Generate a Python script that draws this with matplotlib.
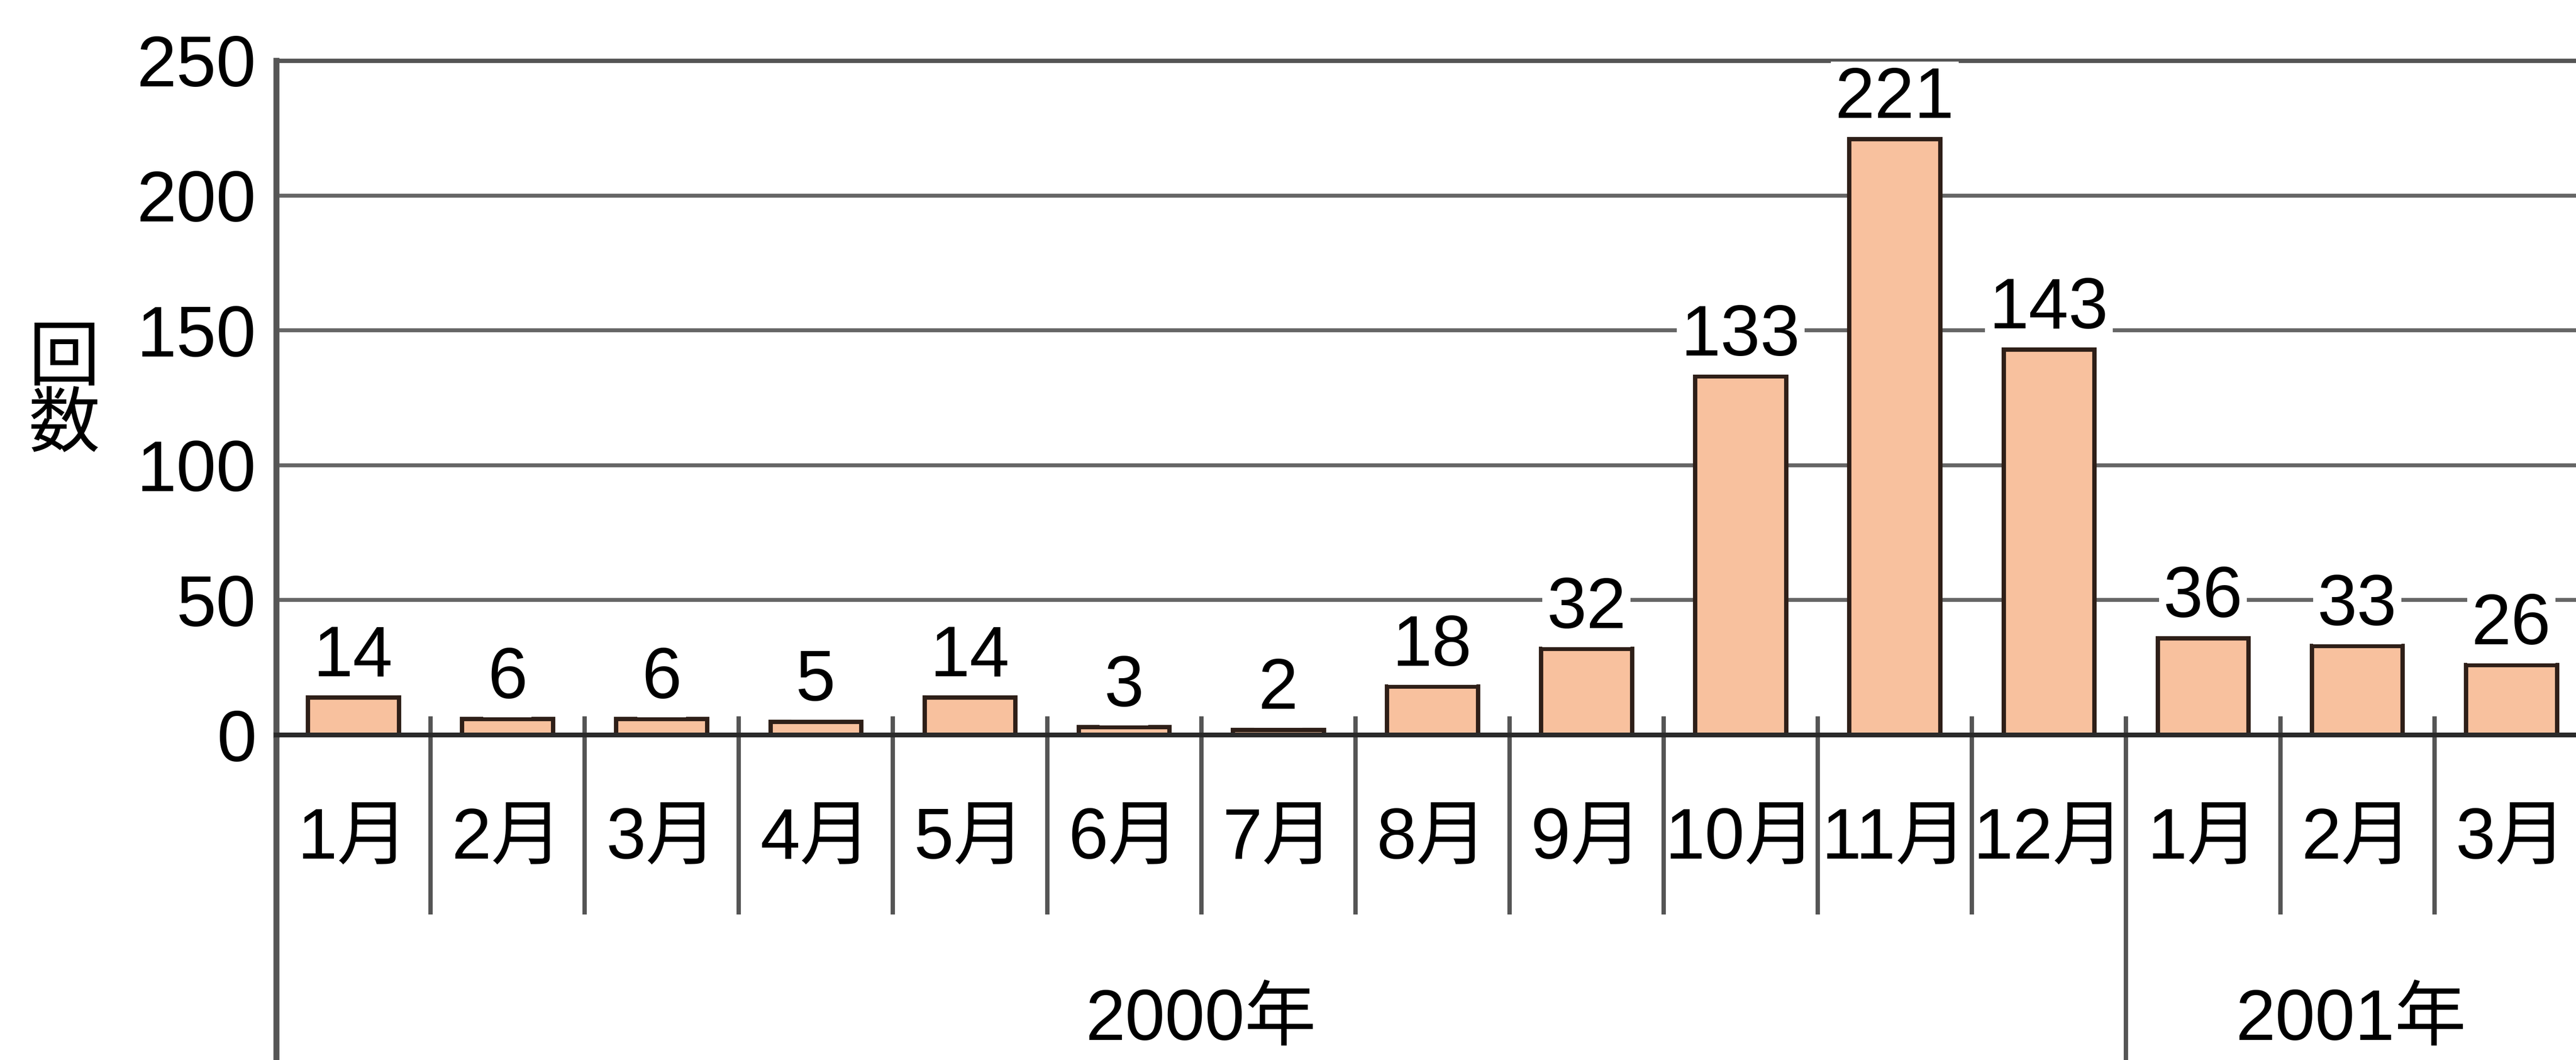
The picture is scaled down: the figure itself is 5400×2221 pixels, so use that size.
import matplotlib
matplotlib.use("Agg")
import matplotlib.pyplot as plt
from matplotlib import transforms

plt.rcParams['font.family'] = ['Liberation Sans', 'Noto Sans CJK JP', 'DejaVu Sans']

# data
months = ["1月", "2月", "3月", "4月", "5月", "6月", "7月", "8月", "9月",
          "10月", "11月", "12月", "1月", "2月", "3月"]
counts = [14, 6, 6, 5, 14, 3, 2, 18, 32, 133, 221, 143, 36, 33, 26]
years = ["2000年", "2001年"]
year_start = [0, 12]          # index of first month of each year
yticks = [0, 50, 100, 150, 200, 250]

FS = 36
bar_color = "#f8c19e"
line_color = "#555555"

W, H = 5400, 2221
fig = plt.figure(figsize=(W / 300, H / 300), dpi=300)
ax_left, ax_bottom, ax_top = 579, 1540, 127   # pixel positions
ax_h = ax_bottom - ax_top
ax = fig.add_axes([ax_left / W, (H - ax_bottom) / H, 1 - ax_left / W, ax_h / H])

x = list(range(len(months)))
ax.bar(x, counts, width=0.59, color=bar_color, edgecolor="#2e1f18",
       linewidth=2.2, zorder=3)

ax.set_xlim(-0.5, 14.42)
ax.set_ylim(0, 250)
ax.set_yticks(yticks)
ax.set_yticklabels([str(v) for v in yticks], fontsize=FS)
ax.tick_params(axis="y", length=0, pad=10)
ax.set_xticks([])

# grid lines
ax.yaxis.grid(True, color="#666666", linewidth=2.0, zorder=0)
ax.set_axisbelow(True)

ax.spines["right"].set_visible(False)
ax.spines["top"].set_color("#555555")
ax.spines["top"].set_linewidth(2.2)
ax.spines["bottom"].set_color("#2a2a2a")
ax.spines["bottom"].set_linewidth(2.4)
ax.spines["bottom"].set_zorder(4)
ax.spines["left"].set_color(line_color)
ax.spines["left"].set_linewidth(3.0)

# value labels with white box (break grid lines)
for xi, v in zip(x, counts):
    ax.annotate(str(v), (xi, v), xytext=(0, 3), textcoords="offset points",
                ha="center", va="bottom", fontsize=FS, zorder=5,
                bbox=dict(boxstyle="square,pad=0.06", fc="white", ec="none"))

# category separators below the axis
bottom_frac = -(H - ax_bottom) / ax_h
short_frac = -371 / ax_h
for i in range(len(months) - 1):
    xs = i + 0.5
    ymin = bottom_frac if (i + 1) in year_start else short_frac
    ax.axvline(xs, ymin=ymin, ymax=0.025, color=line_color, linewidth=2.2,
               clip_on=False, zorder=4)
# left axis line continues down to the bottom
ax.axvline(-0.5, ymin=bottom_frac, ymax=0, color=line_color, linewidth=3.0,
           clip_on=False)

trans = transforms.blended_transform_factory(ax.transData, ax.transAxes)
month_y = -(1760 - ax_bottom) / ax_h
for xi, m in zip(x, months):
    ax.text(xi, month_y, m, transform=trans, ha="center", va="center",
            fontsize=FS)

year_y = -(2140 - ax_bottom) / ax_h
xmax = ax.get_xlim()[1]
ends = year_start[1:] + [None]
for name, s, e in zip(years, year_start, ends):
    right = (e - 0.5) if e is not None else xmax
    ax.text((s - 0.5 + right) / 2, year_y, name, transform=trans,
            ha="center", va="center", fontsize=FS)

# y axis label, stacked vertically
fig.text(135 / W, 1 - 826 / H, "回\n数", ha="center", va="center",
         fontsize=FS, linespacing=1.0)

fig.savefig("out.png", dpi=300, facecolor="white")
